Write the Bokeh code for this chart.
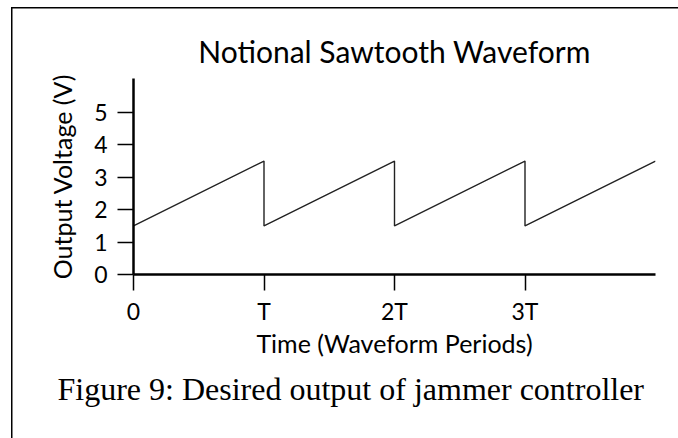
from bokeh.plotting import figure
from bokeh.models import Range1d, FixedTicker, Title
from bokeh.embed import file_html
from bokeh.resources import INLINE

# data (time in waveform periods, voltage in V)
period_times = [0, 1, 1, 2, 2, 3, 3, 4]
voltages = [1.5, 3.5, 1.5, 3.5, 1.5, 3.5, 1.5, 3.5]
x_ticks = [0, 1, 2, 3]
x_tick_labels = ["0", "T", "2T", "3T"]
y_ticks = [0, 1, 2, 3, 4, 5]

FONT = "Lato"

p = figure(width=678, height=438, output_backend="svg", toolbar_location=None,
           x_range=Range1d(0, 4), y_range=Range1d(0, 6.05),
           min_border_left=133, min_border_right=23, min_border_top=78, min_border_bottom=164)

p.line(period_times, voltages, line_color="#222222", line_width=1.4)

p.title.text = "Notional Sawtooth Waveform"
p.title.align = "center"
p.title.text_font = FONT
p.title.text_font_size = "30px"
p.title.text_font_style = "normal"
p.title.text_color = "black"
p.title.standoff = 19

p.grid.visible = False
p.outline_line_color = None
p.border_fill_color = None
p.background_fill_color = None

for ax in (p.xaxis[0], p.yaxis[0]):
    ax.axis_line_width = 2.5
    ax.axis_line_color = "black"
    ax.major_tick_line_width = 1.5
    ax.major_tick_line_color = "black"
    ax.major_tick_in = 0
    ax.major_tick_out = 16
    ax.minor_tick_line_color = None
    ax.major_label_text_font = FONT
    ax.major_label_text_font_size = "23px"
    ax.major_label_text_color = "black"
    ax.axis_label_text_font = FONT
    ax.axis_label_text_font_size = "25px"
    ax.axis_label_text_font_style = "normal"
    ax.axis_label_text_color = "black"

p.xaxis.ticker = FixedTicker(ticks=x_ticks)
p.xaxis.major_label_overrides = dict(zip(x_ticks, x_tick_labels))
p.xaxis.axis_label = "Time (Waveform Periods)"
p.xaxis.major_label_standoff = 6
p.xaxis.axis_label_standoff = 0

p.yaxis.ticker = FixedTicker(ticks=y_ticks)
p.yaxis.axis_label = "Output Voltage (V)"
p.yaxis.major_label_standoff = 10
p.yaxis.axis_label_standoff = 14

caption = Title(text="Figure 9: Desired output of jammer controller", align="left",
                offset=-76, standoff=16, text_font="Liberation Serif", text_font_size="32px",
                text_font_style="normal", text_color="black")
p.add_layout(caption, "below")

# document frame border (left and top edges of the surrounding box)
p.styles = {
    "background-color": "white",
    "background-image": "linear-gradient(#000, #000), linear-gradient(#000, #000)",
    "background-size": "1.5px 100%, 100% 1.5px",
    "background-position": "11px 7px, 11px 7px",
    "background-repeat": "no-repeat",
}

open("out.html", "w").write(file_html(p, INLINE))
